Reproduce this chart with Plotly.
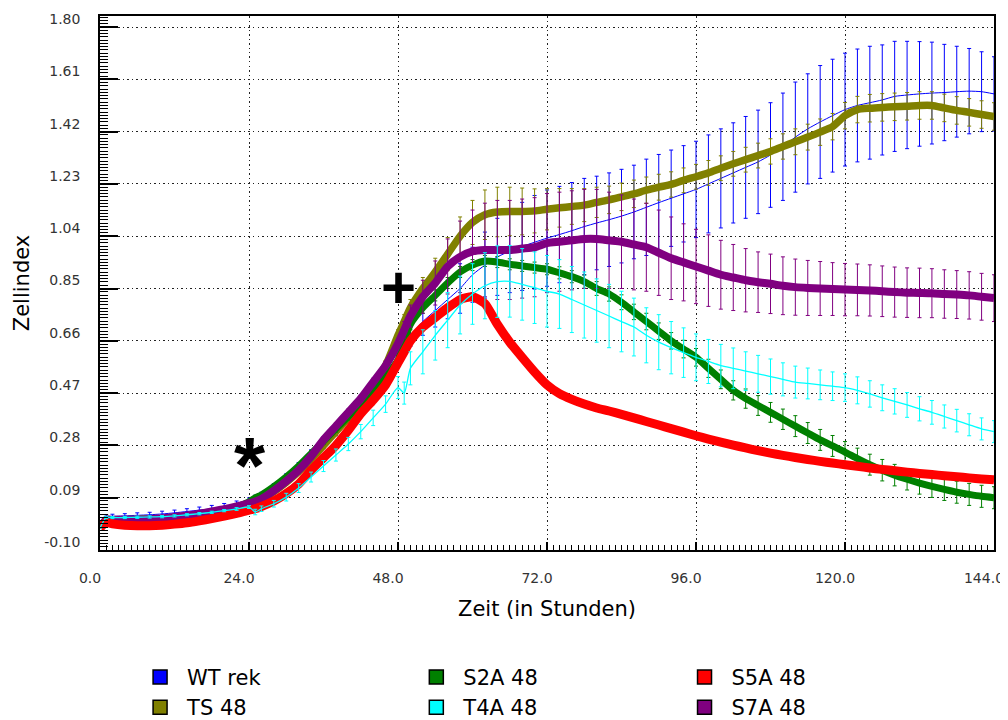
import plotly.graph_objects as go

# ---------------- data ----------------
hours = [0, 1, 2, 4, 6, 8, 10, 12, 14, 16, 18, 20, 22, 24,
         25, 26, 28, 30, 32, 34, 36, 38, 40, 42, 44, 46, 48,
         49, 50, 52, 54, 56, 58, 60, 62, 64, 66, 68, 70, 72,
         74, 76, 78, 80, 82, 84, 86, 88, 90, 92, 94, 96,
         98, 100, 102, 104, 106, 108, 110, 112, 114, 116, 118, 120,
         122, 124, 126, 128, 130, 132, 134, 136, 138, 140, 142, 144]

wt_rek = [-0.02, 0.02, 0.022, 0.024, 0.026, 0.028, 0.031, 0.035, 0.04, 0.045, 0.05, 0.057, 0.065, 0.075,
          0.085, 0.095, 0.125, 0.16, 0.2, 0.245, 0.29, 0.335, 0.385, 0.435, 0.49, 0.55, 0.62,
          0.655, 0.68, 0.73, 0.77, 0.81, 0.85, 0.9, 0.935, 0.965, 0.985, 1.003, 1.018, 1.033,
          1.046, 1.06, 1.075, 1.088, 1.1, 1.113, 1.128, 1.145, 1.162, 1.178, 1.194, 1.21,
          1.23, 1.25, 1.27, 1.29, 1.31, 1.335, 1.365, 1.4, 1.43, 1.455, 1.478, 1.5,
          1.515, 1.525, 1.535, 1.548, 1.553, 1.557, 1.56, 1.562, 1.565, 1.567, 1.565, 1.557]
wt_rek_err = [0, 0.008, 0.008, 0.008, 0.009, 0.009, 0.01, 0.01, 0.01, 0.011, 0.012, 0.012, 0.013, 0.014,
              0.014, 0.015, 0.016, 0.017, 0.018, 0.019, 0.02, 0.02, 0.021, 0.022, 0.023, 0.025, 0.03,
              0.035, 0.04, 0.05, 0.06, 0.07, 0.09, 0.1, 0.12, 0.14, 0.15, 0.16, 0.17, 0.175,
              0.175, 0.175, 0.175, 0.17, 0.17, 0.17, 0.17, 0.175, 0.175, 0.175, 0.175, 0.175,
              0.178, 0.18, 0.182, 0.185, 0.188, 0.19, 0.195, 0.2, 0.2, 0.205, 0.205, 0.205,
              0.205, 0.205, 0.2, 0.2, 0.195, 0.19, 0.185, 0.175, 0.165, 0.155, 0.145, 0.135]

ts48 = [-0.02, 0.01, 0.01, 0.01, 0.011, 0.012, 0.014, 0.018, 0.023, 0.03, 0.037, 0.045, 0.055, 0.068,
        0.075, 0.083, 0.112, 0.146, 0.185, 0.23, 0.28, 0.33, 0.38, 0.435, 0.5, 0.57, 0.68,
        0.73, 0.78, 0.85, 0.91, 0.975, 1.04, 1.09, 1.118, 1.128, 1.13, 1.13, 1.132, 1.138,
        1.143, 1.148, 1.153, 1.163, 1.172, 1.183, 1.194, 1.207, 1.218, 1.228, 1.243, 1.256,
        1.27, 1.287, 1.303, 1.318, 1.333, 1.348, 1.366, 1.383, 1.4, 1.418, 1.438, 1.478,
        1.5, 1.505, 1.508, 1.51, 1.512, 1.515, 1.515, 1.506, 1.497, 1.49, 1.482, 1.475]
ts48_err = [0, 0.005, 0.005, 0.005, 0.005, 0.005, 0.005, 0.005, 0.005, 0.005, 0.005, 0.005, 0.005, 0.005,
            0.006, 0.006, 0.008, 0.009, 0.01, 0.011, 0.012, 0.013, 0.014, 0.015, 0.016, 0.018, 0.02,
            0.025, 0.03, 0.04, 0.05, 0.06, 0.07, 0.08, 0.09, 0.09, 0.088, 0.085, 0.08, 0.075,
            0.07, 0.065, 0.06, 0.055, 0.05, 0.05, 0.05, 0.048, 0.047, 0.046, 0.045, 0.045,
            0.045, 0.045, 0.045, 0.045, 0.045, 0.046, 0.046, 0.047, 0.047, 0.048, 0.048, 0.048,
            0.048, 0.05, 0.05, 0.05, 0.05, 0.05, 0.05, 0.05, 0.05, 0.05, 0.05, 0.05]

s2a48 = [-0.02, 0.01, 0.01, 0.01, 0.011, 0.012, 0.014, 0.018, 0.023, 0.03, 0.037, 0.046, 0.057, 0.075,
         0.09, 0.1, 0.13, 0.165, 0.205, 0.25, 0.295, 0.34, 0.385, 0.43, 0.48, 0.53, 0.59,
         0.66, 0.72, 0.78, 0.825, 0.87, 0.91, 0.935, 0.95, 0.946, 0.938, 0.932, 0.926, 0.92,
         0.907, 0.893, 0.875, 0.85, 0.83, 0.8, 0.765, 0.73, 0.695, 0.66, 0.63, 0.6,
         0.56, 0.52, 0.48, 0.45, 0.425, 0.4, 0.375, 0.35, 0.325, 0.3, 0.278, 0.256,
         0.232, 0.21, 0.19, 0.172, 0.157, 0.143, 0.131, 0.12, 0.11, 0.102, 0.095, 0.09]
s2a48_err = [0, 0.005, 0.005, 0.005, 0.005, 0.005, 0.005, 0.005, 0.005, 0.005, 0.005, 0.005, 0.005, 0.006,
             0.006, 0.007, 0.008, 0.009, 0.01, 0.011, 0.012, 0.012, 0.013, 0.014, 0.014, 0.015, 0.015,
             0.02, 0.02, 0.02, 0.02, 0.02, 0.02, 0.02, 0.02, 0.02, 0.02, 0.02, 0.02, 0.02,
             0.022, 0.022, 0.024, 0.025, 0.026, 0.027, 0.028, 0.03, 0.03, 0.03, 0.032, 0.032,
             0.033, 0.034, 0.035, 0.035, 0.036, 0.036, 0.037, 0.038, 0.038, 0.038, 0.038, 0.038,
             0.038, 0.038, 0.039, 0.039, 0.039, 0.04, 0.04, 0.04, 0.04, 0.04, 0.04, 0.04]

s5a48 = [-0.02, 0.0, -0.005, -0.01, -0.012, -0.012, -0.01, -0.006, -0.001, 0.006, 0.014, 0.023, 0.033, 0.045,
         0.05, 0.058, 0.078, 0.105, 0.14, 0.19, 0.235, 0.28, 0.335, 0.395, 0.445, 0.5, 0.58,
         0.62, 0.66, 0.71, 0.745, 0.78, 0.81, 0.82, 0.795, 0.72, 0.655, 0.6, 0.547, 0.5,
         0.468, 0.447, 0.43, 0.416, 0.405, 0.393, 0.38, 0.367, 0.354, 0.341, 0.328, 0.315,
         0.303, 0.292, 0.281, 0.271, 0.261, 0.252, 0.244, 0.236, 0.229, 0.222, 0.216, 0.21,
         0.204, 0.198, 0.193, 0.188, 0.183, 0.178, 0.174, 0.17, 0.166, 0.162, 0.158, 0.155]
s5a48_err = [0, 0.004, 0.004, 0.004, 0.004, 0.004, 0.004, 0.004, 0.004, 0.004, 0.004, 0.004, 0.005, 0.005,
             0.005, 0.005, 0.005, 0.005, 0.006, 0.006, 0.006, 0.006, 0.006, 0.007, 0.007, 0.007, 0.008,
             0.008, 0.008, 0.008, 0.008, 0.008, 0.008, 0.008, 0.008, 0.008, 0.008, 0.008, 0.008, 0.008,
             0.007, 0.007, 0.007, 0.007, 0.007, 0.007, 0.007, 0.007, 0.007, 0.007, 0.007, 0.007,
             0.007, 0.007, 0.007, 0.007, 0.007, 0.007, 0.007, 0.007, 0.007, 0.007, 0.007, 0.007,
             0.007, 0.007, 0.007, 0.007, 0.007, 0.007, 0.007, 0.007, 0.007, 0.007, 0.007, 0.007]

t4a48 = [-0.02, 0.018, 0.018, 0.018, 0.019, 0.02, 0.021, 0.024, 0.028, 0.032, 0.037, 0.043, 0.049, 0.056,
         0.038, 0.05, 0.068, 0.092, 0.125, 0.165, 0.205, 0.245, 0.285, 0.33, 0.38, 0.43, 0.49,
         0.47, 0.56, 0.62, 0.68, 0.735, 0.79, 0.83, 0.86, 0.875, 0.876, 0.865, 0.853, 0.84,
         0.83, 0.81, 0.79, 0.77, 0.75, 0.73, 0.71, 0.68, 0.655, 0.635, 0.617, 0.6,
         0.585, 0.57, 0.56, 0.55, 0.54, 0.53, 0.52, 0.51, 0.505, 0.5, 0.495, 0.49,
         0.48, 0.467, 0.453, 0.44, 0.427, 0.413, 0.4, 0.385, 0.37, 0.355, 0.34, 0.33]
t4a48_err = [0, 0.004, 0.004, 0.004, 0.004, 0.004, 0.004, 0.004, 0.004, 0.004, 0.004, 0.004, 0.005, 0.005,
             0.01, 0.01, 0.012, 0.014, 0.016, 0.018, 0.02, 0.022, 0.024, 0.026, 0.028, 0.03, 0.04,
             0.04, 0.06, 0.08, 0.09, 0.1, 0.105, 0.11, 0.12, 0.13, 0.13, 0.13, 0.13, 0.13,
             0.125, 0.12, 0.12, 0.115, 0.115, 0.11, 0.105, 0.1, 0.1, 0.095, 0.09, 0.085,
             0.08, 0.077, 0.074, 0.07, 0.067, 0.064, 0.06, 0.058, 0.056, 0.054, 0.052, 0.05,
             0.049, 0.048, 0.047, 0.046, 0.045, 0.044, 0.043, 0.042, 0.041, 0.04, 0.04, 0.04]

s7a48 = [-0.02, 0.01, 0.01, 0.01, 0.01, 0.012, 0.015, 0.02, 0.025, 0.032, 0.04, 0.048, 0.058, 0.07,
         0.076, 0.085, 0.115, 0.15, 0.19, 0.24, 0.3, 0.35, 0.4, 0.45, 0.51, 0.57, 0.65,
         0.7, 0.75, 0.82, 0.87, 0.93, 0.965, 0.985, 0.99, 0.99, 0.99, 0.995, 1.0, 1.015,
         1.02, 1.025, 1.03, 1.03, 1.025, 1.02, 1.01, 1.0, 0.98, 0.96, 0.945, 0.93,
         0.915, 0.9, 0.89, 0.88, 0.873, 0.867, 0.86, 0.855, 0.852, 0.85, 0.848, 0.846,
         0.845, 0.843, 0.84, 0.837, 0.835, 0.834, 0.833, 0.83, 0.828, 0.825, 0.82, 0.815]
s7a48_err = [0, 0.004, 0.004, 0.004, 0.004, 0.004, 0.004, 0.004, 0.004, 0.004, 0.004, 0.004, 0.005, 0.005,
             0.006, 0.006, 0.007, 0.008, 0.009, 0.01, 0.011, 0.012, 0.012, 0.013, 0.014, 0.015, 0.015,
             0.03, 0.04, 0.06, 0.08, 0.1, 0.13, 0.15, 0.17, 0.18, 0.18, 0.18, 0.18, 0.18,
             0.18, 0.18, 0.18, 0.18, 0.175, 0.17, 0.165, 0.16, 0.155, 0.15, 0.14, 0.135,
             0.13, 0.125, 0.12, 0.115, 0.11, 0.108, 0.105, 0.102, 0.1, 0.098, 0.096, 0.095,
             0.094, 0.093, 0.092, 0.091, 0.09, 0.09, 0.089, 0.088, 0.087, 0.086, 0.085, 0.085]

# legend columns (each column is one legend box)
legend_columns = [["WT rek", "TS 48"], ["S2A 48", "T4A 48"], ["S5A 48", "S7A 48"]]

y_tickvals = [-0.10, 0.09, 0.28, 0.47, 0.66, 0.85, 1.04, 1.23, 1.42, 1.61, 1.80]
y_ticktext = ["-0.10", "0.09", "0.28", "0.47", "0.66", "0.85", "1.04", "1.23", "1.42", "1.61", "1.80"]
x_tickvals = [0, 24, 48, 72, 96, 120, 144]
x_ticktext = ["0.0", "24.0", "48.0", "72.0", "96.0", "120.0", "144.0"]

# ---------------- styling ----------------
styles = {
    "WT rek": dict(y=wt_rek, err=wt_rek_err, color="#0000FF", width=1.0),
    "TS 48": dict(y=ts48, err=ts48_err, color="#808000", width=7.5),
    "S2A 48": dict(y=s2a48, err=s2a48_err, color="#008000", width=7),
    "S7A 48": dict(y=s7a48, err=s7a48_err, color="#800080", width=8),
    "S5A 48": dict(y=s5a48, err=s5a48_err, color="#FF0000", width=9),
    "T4A 48": dict(y=t4a48, err=t4a48_err, color="#00FFFF", width=1.3),
}
draw_order = ["WT rek", "TS 48", "S2A 48", "S7A 48", "S5A 48", "T4A 48"]

fig = go.Figure()
for name in draw_order:
    s = styles[name]
    fig.add_trace(go.Scatter(
        x=hours, y=s["y"], mode="lines", name=name, showlegend=False,
        line=dict(color=s["color"], width=s["width"], shape="spline", smoothing=0.6),
        error_y=dict(type="data", array=s["err"], visible=True,
                     color=s["color"], thickness=1, width=2),
    ))

legend_ids = ["legend", "legend2", "legend3"]
for lid, col in zip(legend_ids, legend_columns):
    for name in col:
        fig.add_trace(go.Scatter(
            x=[None], y=[None], mode="markers", name=name, legend=lid,
            marker=dict(symbol="square", size=14, color=styles[name]["color"],
                        line=dict(color="black", width=1.5)),
        ))

fig.add_annotation(x=24.2, y=0.207, text="<b>*</b>", showarrow=False,
                   font=dict(size=80, color="black", family="Liberation Sans"),
                   xanchor="center", yanchor="middle")
fig.add_annotation(x=48.0, y=0.852, text="<b>+</b>", showarrow=False,
                   font=dict(size=60, color="black", family="Liberation Sans"),
                   xanchor="center", yanchor="middle")

tick_font = dict(family="DejaVu Sans", size=14, color="#333333")
title_font = dict(family="DejaVu Sans", size=21, color="black")
legend_font = dict(family="DejaVu Sans", size=21, color="black")


def legend_box(xpos):
    return dict(orientation="v", x=xpos, y=-0.20, xanchor="left", yanchor="top",
                itemsizing="trace", itemwidth=44, font=legend_font,
                bgcolor="rgba(0,0,0,0)", tracegroupgap=0)


# the page adds an 8px body margin, so the figure is 8px smaller and the
# left/top margins 8px smaller to keep the plot area where the reference has it
fig.update_layout(
    width=1000, height=712,
    margin=dict(l=92, r=14, t=8, b=170, autoexpand=False),
    paper_bgcolor="white", plot_bgcolor="white",
    showlegend=True,
    legend=legend_box(0.037),
    legend2=legend_box(0.346),
    legend3=legend_box(0.646),
    xaxis=dict(
        range=[0, 144], tickvals=x_tickvals, ticktext=x_ticktext,
        ticks="inside", ticklen=8, tickwidth=1.5, tickcolor="black",
        showline=True, linecolor="black", linewidth=1.5, mirror=True,
        showgrid=True, gridcolor="#222222", gridwidth=1.3, griddash="1.5px,3px",
        zeroline=False, tickfont=tick_font,
        ticklabelshift=-10, ticklabelstandoff=14,
        minor=dict(dtick=1, tick0=0, ticks="inside", ticklen=5, tickcolor="black",
                   tickwidth=1, showgrid=False),
        title=dict(text="Zeit (in Stunden)", font=title_font, standoff=17),
    ),
    yaxis=dict(
        range=[-0.10, 1.84], tickvals=y_tickvals, ticktext=y_ticktext,
        ticks="inside", ticklen=18, tickwidth=1.5, tickcolor="black",
        showline=True, linecolor="black", linewidth=1.5, mirror=True,
        showgrid=True, gridcolor="#222222", gridwidth=1.3, griddash="1.5px,3px",
        zeroline=False, tickfont=tick_font,
        ticklabelshift=-8, ticklabelstandoff=15,
        minor=dict(dtick=0.19 / 16, tick0=-0.10, ticks="inside", ticklen=8,
                   tickcolor="black", tickwidth=1, showgrid=False),
        title=dict(text="Zellindex", font=title_font, standoff=9),
    ),
)

fig.write_html("out.html")
